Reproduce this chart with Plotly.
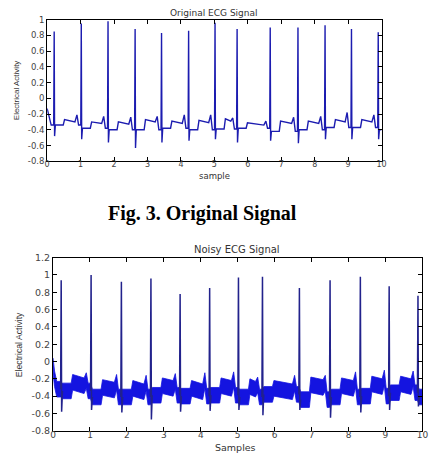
import plotly.graph_objects as go

# ---------------- data ----------------
# Original ECG (top)
r_times_top = [0.21, 1.02, 1.82, 2.63, 3.42, 4.23, 5.02, 5.68, 6.67, 7.50, 8.31, 9.10, 9.90]
r_peaks_top = [0.85, 0.95, 0.98, 0.88, 0.83, 0.86, 0.96, 0.88, 0.90, 0.90, 0.93, 0.88, 0.84]
s_troughs_top = [-0.48, -0.52, -0.56, -0.63, -0.56, -0.54, -0.52, -0.56, -0.54, -0.57, -0.52, -0.52, -0.52]
baseline_top = [-0.34, -0.38, -0.40, -0.40, -0.38, -0.40, -0.39, -0.38, -0.42, -0.40, -0.37, -0.37, -0.40]
t_wave_top = [-0.27, -0.30, -0.30, -0.27, -0.29, -0.28, -0.26, -0.31, -0.29, -0.29, -0.27, -0.27]
tp_level_top = [-0.30, -0.32, -0.33, -0.30, -0.32, -0.31, -0.29, -0.34, -0.32, -0.32, -0.30, -0.30]
p_wave_top = [-0.21, -0.23, -0.24, -0.23, -0.21, -0.21, -0.25, -0.29, -0.24, -0.23, -0.18, -0.21]
start_t_top = [0.0, 0.04, 0.08, 0.12]
start_v_top = [-0.13, -0.20, -0.28, -0.34]

# Noisy ECG (bottom)
r_times_bot = [0.22, 1.03, 1.85, 2.65, 3.44, 4.24, 5.02, 5.67, 6.67, 7.50, 8.32, 9.10, 9.88]
r_peaks_bot = [0.94, 1.00, 0.92, 0.96, 0.78, 0.85, 0.97, 0.98, 0.85, 0.94, 0.98, 0.87, 0.76]
s_troughs_bot = [-0.58, -0.56, -0.59, -0.67, -0.58, -0.57, -0.56, -0.62, -0.56, -0.65, -0.59, -0.56, -0.52]
baseline_bot = [-0.34, -0.41, -0.41, -0.39, -0.40, -0.39, -0.41, -0.38, -0.44, -0.41, -0.40, -0.36, -0.41]
t_wave_bot = [-0.24, -0.30, -0.31, -0.28, -0.31, -0.28, -0.29, -0.31, -0.27, -0.28, -0.26, -0.26]
tp_level_bot = [-0.28, -0.33, -0.35, -0.31, -0.35, -0.31, -0.32, -0.35, -0.30, -0.31, -0.29, -0.29]
p_wave_bot = [-0.22, -0.24, -0.25, -0.23, -0.22, -0.21, -0.27, -0.25, -0.25, -0.21, -0.19, -0.20]
start_t_bot = [0.0, 0.04, 0.10]
start_v_bot = [-0.05, -0.20, -0.32]
noise_halfwidth_bot = 0.09

# beat template: time offsets (s) relative to R and to the next R
qrs_offsets = [-0.015, 0.0, 0.012, 0.035]
t_offsets = [0.27, 0.31]
p_offsets_from_next = [-0.19, -0.13, -0.08]
t_end = 10.0

x_ticks = [0, 1, 2, 3, 4, 5, 6, 7, 8, 9, 10]
y_ticks_top = [-0.8, -0.6, -0.4, -0.2, 0, 0.2, 0.4, 0.6, 0.8, 1]
y_ticks_bot = [-0.8, -0.6, -0.4, -0.2, 0, 0.2, 0.4, 0.6, 0.8, 1, 1.2]


def tick_text(vals):
    return ["%g" % v for v in vals]


def build_wave(st, sv, rt, rp, st_, base, tw, tp, pw, with_qrs=True):
    xs, ys = list(st), list(sv)
    n = len(rt)
    for i in range(n):
        r = rt[i]
        pre = base[i - 1] if i > 0 else sv[-1]
        if with_qrs:
            xs += [r + o for o in qrs_offsets]
            ys += [pre, rp[i], st_[i], base[i]]
        else:
            xs += [r + qrs_offsets[0], r + qrs_offsets[-1]]
            ys += [pre, base[i]]
        if i < n - 1:
            rn = rt[i + 1]
            xs += [r + t_offsets[0], r + t_offsets[1]]
            ys += [base[i], tw[i]]
            xs += [rn + o for o in p_offsets_from_next]
            ys += [tp[i], pw[i], base[i]]
        else:
            xs.append(t_end)
            ys.append(base[i])
    return xs, ys


def build_spikes(rt, rp, st_, base, first_pre):
    xs, ys = [], []
    for i, r in enumerate(rt):
        pre = base[i - 1] if i > 0 else first_pre
        xs += [r + o for o in qrs_offsets] + [None]
        ys += [pre, rp[i], st_[i], base[i]] + [None]
    return xs, ys


xt, yt = build_wave(start_t_top, start_v_top, r_times_top, r_peaks_top, s_troughs_top,
                    baseline_top, t_wave_top, tp_level_top, p_wave_top)
xb, yb = build_wave(start_t_bot, start_v_bot, r_times_bot, r_peaks_bot, s_troughs_bot,
                    baseline_bot, t_wave_bot, tp_level_bot, p_wave_bot, with_qrs=False)
upper = [v + noise_halfwidth_bot for v in yb]
lower = [v - noise_halfwidth_bot for v in yb]
xs_sp, ys_sp = build_spikes(r_times_bot, r_peaks_bot, s_troughs_bot, baseline_bot, start_v_bot[-1])

fig = go.Figure()
fig.add_trace(go.Scatter(x=xt, y=yt, mode="lines", line=dict(color="#1c1cb0", width=1.4),
                         xaxis="x", yaxis="y", showlegend=False, hoverinfo="skip"))
fig.add_trace(go.Scatter(x=xb, y=upper, mode="lines", line=dict(color="#1414e0", width=0.8),
                         xaxis="x2", yaxis="y2", showlegend=False, hoverinfo="skip"))
fig.add_trace(go.Scatter(x=xb, y=lower, mode="lines", line=dict(color="#1414e0", width=0.8),
                         fill="tonexty", fillcolor="#1414e0",
                         xaxis="x2", yaxis="y2", showlegend=False, hoverinfo="skip"))
fig.add_trace(go.Scatter(x=xs_sp, y=ys_sp, mode="lines", line=dict(color="#22228c", width=1.5),
                         xaxis="x2", yaxis="y2", showlegend=False, hoverinfo="skip", connectgaps=False))

W, H = 433, 467
axis_common = dict(showline=True, linecolor="black", linewidth=1, mirror="ticks",
                   ticks="inside", ticklen=4, tickcolor="black", tickwidth=1,
                   showgrid=False, zeroline=False, fixedrange=True)

fig.update_layout(
    width=W, height=H, margin=dict(l=0, r=0, t=0, b=0),
    paper_bgcolor="white", plot_bgcolor="white",
    xaxis=dict(domain=[45 / W, 385.7 / W], range=[0, 10], anchor="y",
               tickvals=x_ticks, ticktext=tick_text(x_ticks), ticklabelstandoff=-5,
               tickfont=dict(family="DejaVu Sans", size=8, color="#444"), **axis_common),
    yaxis=dict(domain=[1 - 159 / H, 1 - 14 / H], range=[-0.8, 1], anchor="x",
               tickvals=y_ticks_top, ticktext=tick_text(y_ticks_top),
               tickfont=dict(family="DejaVu Sans", size=8.5, color="#444"), **axis_common),
    xaxis2=dict(domain=[51 / W, 427.3 / W], range=[0, 10], anchor="y2",
                tickvals=x_ticks, ticktext=tick_text(x_ticks), ticklabelstandoff=-5,
                tickfont=dict(family="DejaVu Sans", size=9, color="#444"), **axis_common),
    yaxis2=dict(domain=[1 - 435 / H, 1 - 257.7 / H], range=[-0.8, 1.2], anchor="x2",
                tickvals=y_ticks_bot, ticktext=tick_text(y_ticks_bot),
                tickfont=dict(family="DejaVu Sans", size=9.5, color="#444"), **axis_common),
)

ann = [
    dict(text="Original ECG Signal", x=215.3 / W, y=1 - 7 / H, size=9, angle=0, family="DejaVu Sans"),
    dict(text="sample", x=215.3 / W, y=1 - 174 / H, size=8.5, angle=0, family="DejaVu Sans"),
    dict(text="Electrical Activity", x=14 / W, y=1 - 86.5 / H, size=8, angle=-90,
         family="Liberation Sans Narrow, Liberation Sans"),
    dict(text="Noisy ECG Signal", x=238 / W, y=1 - 249 / H, size=10, angle=0, family="DejaVu Sans"),
    dict(text="Samples", x=237 / W, y=1 - 452 / H, size=9.5, angle=0, family="DejaVu Sans"),
    dict(text="Electrical Activity", x=16 / W, y=1 - 346.7 / H, size=8.7, angle=-90,
         family="Liberation Sans Narrow, Liberation Sans"),
]
for a in ann:
    fig.add_annotation(text=a["text"], x=a["x"], y=a["y"], xref="paper", yref="paper",
                       xanchor="center", yanchor="middle", showarrow=False, textangle=a["angle"],
                       borderpad=0,
                       font=dict(family=a["family"], size=a["size"], color="#333"))

fig.add_annotation(text="<b>Fig. 3. Original Signal</b>", x=203.5 / W, y=1 - 213 / H,
                   xref="paper", yref="paper", xanchor="center", yanchor="middle", showarrow=False,
                   font=dict(family="Liberation Serif, Times New Roman", size=20, color="black"))

fig.write_html("out.html")
